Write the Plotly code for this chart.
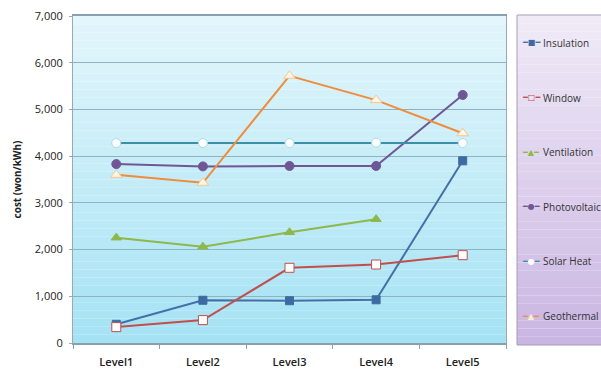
import plotly.graph_objects as go

categories = ["Level1", "Level2", "Level3", "Level4", "Level5"]
insulation = [400, 915, 905, 925, 3900]
window = [340, 490, 1610, 1680, 1880]
ventilation = [2255, 2060, 2370, 2650, None]
photovoltaic = [3830, 3780, 3790, 3790, 5310]
solar_heat = [4280, 4280, 4280, 4290, 4280]
geothermal = [3600, 3430, 5720, 5200, 4490]

# name, values, line colour, marker style, legend glyph, legend glyph colour
series = [
    ("Insulation", insulation, "#4470a8", dict(symbol="square", color="#3d6aa3", size=8, line=dict(color="#3d6aa3", width=1)), "■", "#3d6aa3"),
    ("Window", window, "#c0504d", dict(symbol="square", color="white", size=9, line=dict(color="#c0504d", width=1)), "□", "#c0504d"),
    ("Ventilation", ventilation, "#8db84a", dict(symbol="triangle-up", color="#8db84a", size=9, line=dict(color="#8db84a", width=1)), "▲", "#8db84a"),
    ("Photovoltaic", photovoltaic, "#6f5796", dict(symbol="circle", color="#6f5796", size=9, line=dict(color="#6f5796", width=1)), "●", "#6f5796"),
    ("Solar Heat", solar_heat, "#3b8fa6", dict(symbol="circle", color="white", size=9, line=dict(color="#a9dbe8", width=1)), "●", "#ffffff"),
    ("Geothermal", geothermal, "#f08c3c", dict(symbol="triangle-up", color="#fff6e8", size=10, line=dict(color="#f5c68e", width=1)), "▲", "#fdebd0"),
]

fig = go.Figure()
for i, (name, vals, lc, mk, _, _) in enumerate(series):
    fig.add_trace(go.Scatter(
        x=categories, y=vals, name=name, mode="lines+markers",
        line=dict(color=lc, width=2), marker=mk,
        connectgaps=False, showlegend=False,
    ))

shapes = []
n = 40
top = (226, 246, 251)
bot = (165, 226, 244)
for k in range(n):
    t = k / (n - 1)
    c = tuple(int(round(top[j] + (bot[j] - top[j]) * t)) for j in range(3))
    shapes.append(dict(type="rect", xref="paper", yref="paper",
                       x0=0, x1=1, y0=1 - (k + 1) / n, y1=1 - k / n,
                       fillcolor=f"rgb{c}", line=dict(width=0), layer="below"))

# legend panel (lavender gradient)
PW, PH, PL, PB = 433, 327, 73, 343
ltop = (240, 234, 247)
lbot = (202, 182, 226)
lx0 = (517 - PL) / PW
lx1 = (610 - PL) / PW
ly_top = (PB - 15) / PH
ly_bot = (PB - 345) / PH
m = 40
for k in range(m):
    t = k / (m - 1)
    c = tuple(int(round(ltop[j] + (lbot[j] - ltop[j]) * t)) for j in range(3))
    y1 = ly_top - (ly_top - ly_bot) * k / m
    y0 = ly_top - (ly_top - ly_bot) * (k + 1) / m
    shapes.append(dict(type="rect", xref="paper", yref="paper",
                       x0=lx0, x1=lx1, y0=y0, y1=y1,
                       fillcolor=f"rgb{c}", line=dict(width=0), layer="below"))
shapes.append(dict(type="rect", xref="paper", yref="paper",
                   x0=lx0, x1=lx1, y0=ly_bot, y1=ly_top,
                   fillcolor="rgba(0,0,0,0)", line=dict(color="#a99bb8", width=1), layer="below"))

# legend entries as text
annotations = []
for k, (name, _, lc, _, glyph, gcol) in enumerate(series):
    ypix = 43 + k * 54.6
    yp = (PB - ypix) / PH
    icon = (f"<span style='color:{lc}'>━</span>"
            f"<span style='color:{gcol}'>{glyph}</span>"
            f"<span style='color:{lc}'>━</span>")
    annotations.append(dict(xref="paper", yref="paper", x=(521 - PL) / PW, y=yp,
                            xanchor="left", yanchor="middle", showarrow=False,
                            borderpad=0,
                            text=icon, font=dict(family="DejaVu Sans", size=8)))
    annotations.append(dict(xref="paper", yref="paper", x=(542 - PL) / PW, y=yp,
                            xanchor="left", yanchor="middle", showarrow=False,
                            borderpad=0,
                            text=name,
                            font=dict(family="Open Sans, Arial, sans-serif", size=10, color="#333333")))

fig.update_layout(
    width=601, height=369,
    margin=dict(l=73, r=95, t=16, b=26, autoexpand=False),
    paper_bgcolor="white",
    plot_bgcolor="rgba(0,0,0,0)",
    shapes=shapes,
    annotations=annotations,
    showlegend=False,
    font=dict(family="Open Sans, Arial, sans-serif", color="#222222"),
)
fig.update_xaxes(
    type="category", range=[-0.5, 4.5],
    tickson="boundaries", ticks="outside", ticklen=4, tickcolor="#8aa0b0",
    showline=True, linecolor="#8aa0b0", linewidth=1.5, mirror=True,
    showgrid=False,
    tickfont=dict(family="Open Sans, Arial, sans-serif", size=11, color="#222222", weight=600),
    ticklabelstandoff=8,
)
fig.update_yaxes(
    range=[0, 7000], dtick=1000, tickformat=",d",
    showgrid=True, gridcolor="#8fb3c0", gridwidth=1,
    showline=True, linecolor="#9aa8b0", linewidth=1, mirror=True,
    ticks="outside", ticklen=3, tickcolor="#9aa8b0",
    tickfont=dict(family="Open Sans, Arial, sans-serif", size=11, color="#222222"),
    ticklabelstandoff=4,
    zeroline=False,
    title=dict(text="<b>cost (won/kWh)</b>", font=dict(family="Open Sans, Arial, sans-serif", size=10, color="#222222"), standoff=11),
)
fig.write_html("out.html")
